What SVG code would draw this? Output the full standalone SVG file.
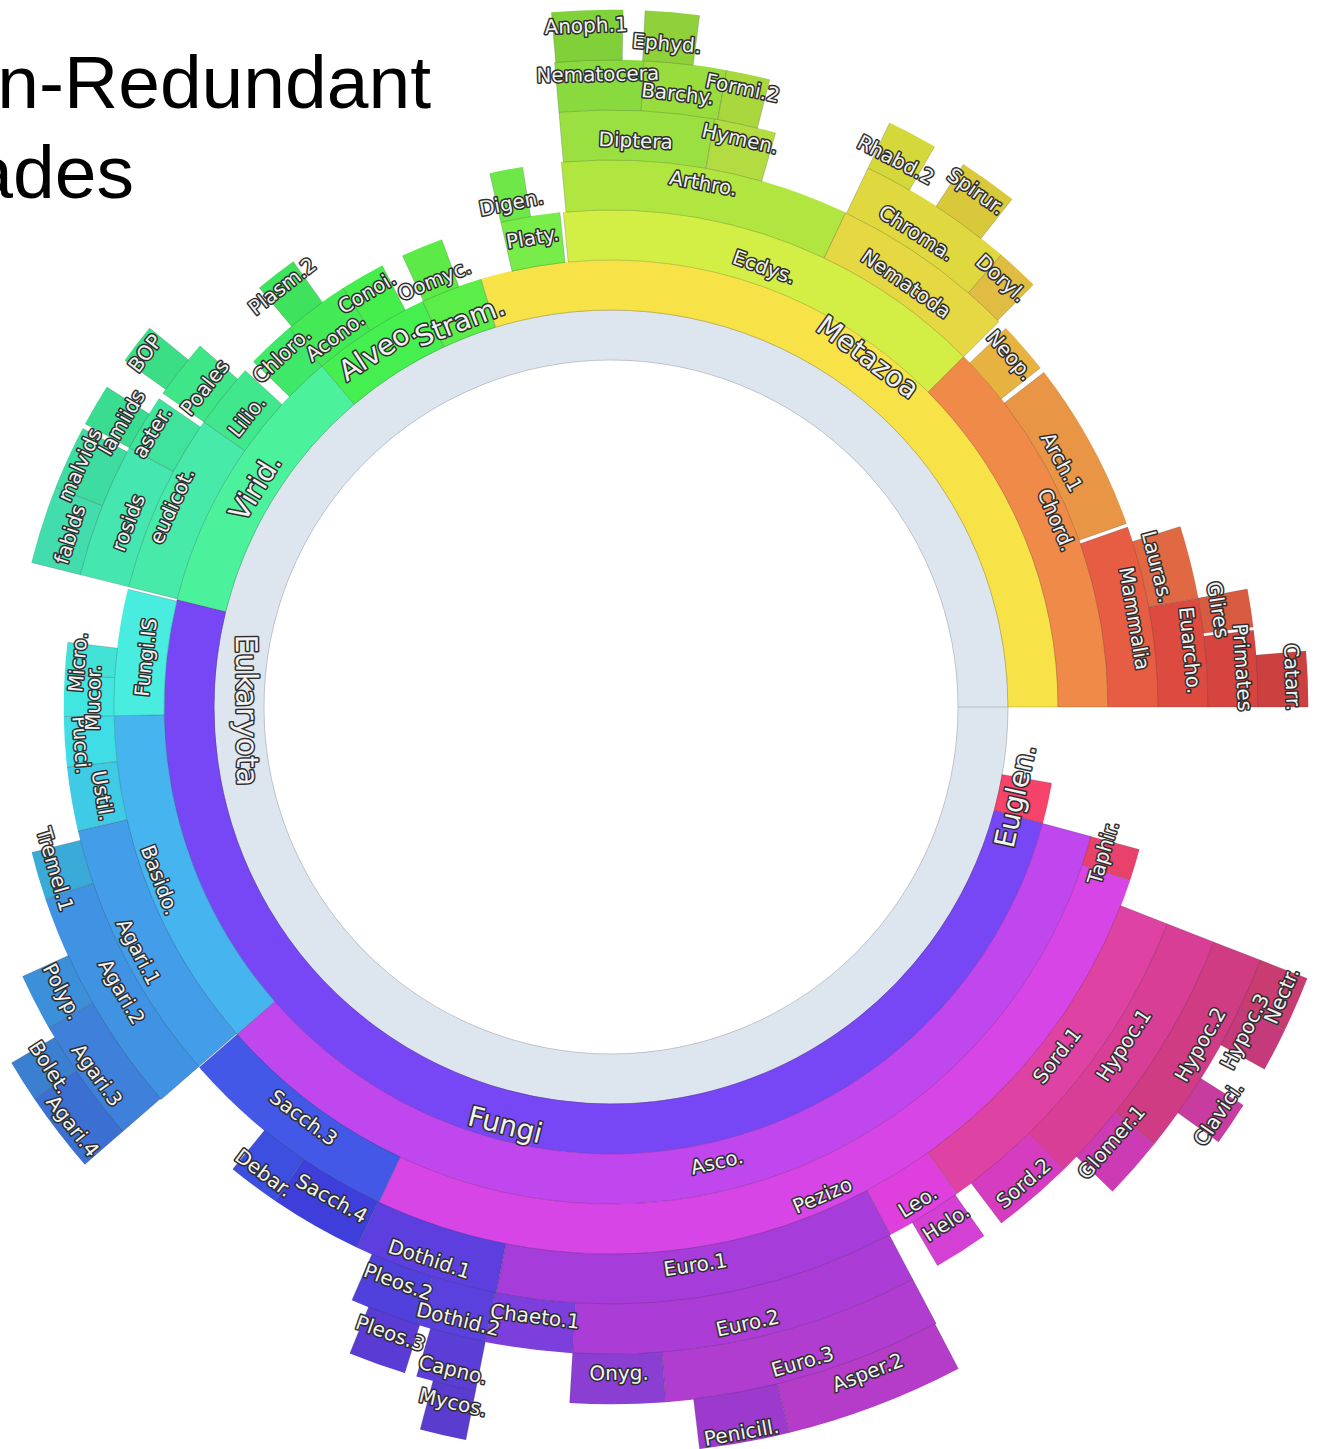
<svg xmlns="http://www.w3.org/2000/svg" width="1317" height="1449" viewBox="0 0 1317 1449">
<style>
.f{fill:none;stroke-width:50.6}
.b{fill:none;stroke:#333;stroke-opacity:.3;stroke-width:.7}
.t{font-family:"DejaVu Sans","Liberation Sans",sans-serif;font-size:20px;fill:#f2f2f2;stroke:#2d2d2d;stroke-width:3px;paint-order:stroke;stroke-linejoin:round;text-anchor:middle;dominant-baseline:central}
.t1{font-size:28px}
.t0{font-size:30px}
.title{font-family:"Liberation Sans",Arial,sans-serif;font-size:75px;fill:#000;text-anchor:end}
</style>
<defs>
<path id="r0" d="M347 0H397" stroke="#333" stroke-opacity=".3" stroke-width=".7"/>
<path id="r1" d="M397 0H447" stroke="#333" stroke-opacity=".3" stroke-width=".7"/>
<path id="r2" d="M447 0H497" stroke="#333" stroke-opacity=".3" stroke-width=".7"/>
<path id="r3" d="M497 0H547" stroke="#333" stroke-opacity=".3" stroke-width=".7"/>
<path id="r4" d="M547 0H597" stroke="#333" stroke-opacity=".3" stroke-width=".7"/>
<path id="r5" d="M597 0H647" stroke="#333" stroke-opacity=".3" stroke-width=".7"/>
<path id="r6" d="M647 0H697" stroke="#333" stroke-opacity=".3" stroke-width=".7"/>
<path id="r7" d="M697 0H747" stroke="#333" stroke-opacity=".3" stroke-width=".7"/>
</defs>
<rect width="1317" height="1449" fill="#fff"/>
<g id="title">
<text class="title" x="431" y="108">n-Redundant</text>
<text class="title" x="134" y="198">ades</text>
</g>
<g id="sunburst" transform="translate(611 707)">
<g id="nodes">
<g id="n-eukaryota"><circle class="f" r="372" stroke="#dde5ef"/><circle class="b" r="347"/><circle class="b" r="397"/><use href="#r0"/></g>

<g id="n-euglen" transform="rotate(9.8)"><circle class="f" r="422" pathLength="360" stroke="#f5436a" stroke-dasharray="5.3 999"/><circle class="b" r="397" pathLength="360" stroke-dasharray="5.3 999"/><use href="#r1"/><use href="#r1" transform="rotate(5.3)"/></g>
<g id="n-fungi" transform="rotate(15.1)"><circle class="f" r="422" pathLength="360" stroke="#7847f5" stroke-dasharray="178.8 999"/><circle class="b" r="397" pathLength="360" stroke-dasharray="178.8 999"/><use href="#r1"/><use href="#r1" transform="rotate(178.8)"/></g>
<g id="n-virid" transform="rotate(193.9)"><circle class="f" r="422" pathLength="360" stroke="#4cf29b" stroke-dasharray="35.8 999"/><circle class="b" r="397" pathLength="360" stroke-dasharray="35.8 999"/><use href="#r1"/><use href="#r1" transform="rotate(35.8)"/></g>
<g id="n-alveo" transform="rotate(229.7)"><circle class="f" r="422" pathLength="360" stroke="#46ef50" stroke-dasharray="15.4 999"/><circle class="b" r="397" pathLength="360" stroke-dasharray="15.4 999"/><use href="#r1"/><use href="#r1" transform="rotate(15.4)"/></g>
<g id="n-stram" transform="rotate(245.1)"><circle class="f" r="422" pathLength="360" stroke="#5cee48" stroke-dasharray="8 999"/><circle class="b" r="397" pathLength="360" stroke-dasharray="8 999"/><use href="#r1"/><use href="#r1" transform="rotate(8)"/></g>
<g id="n-metazoa" transform="rotate(253.1)"><circle class="f" r="422" pathLength="360" stroke="#f7e247" stroke-dasharray="106.9 999"/><circle class="b" r="397" pathLength="360" stroke-dasharray="106.9 999"/><use href="#r1"/><use href="#r1" transform="rotate(106.9)"/></g>

<g id="n-asco" transform="rotate(15.1)"><circle class="f" r="472" pathLength="360" stroke="#c046ee" stroke-dasharray="123.7 999"/><circle class="b" r="447" pathLength="360" stroke-dasharray="123.7 999"/><use href="#r2"/><use href="#r2" transform="rotate(123.7)"/></g>
<g id="n-basido" transform="rotate(138.8)"><circle class="f" r="472" pathLength="360" stroke="#46b4ee" stroke-dasharray="40.2 999"/><circle class="b" r="447" pathLength="360" stroke-dasharray="40.2 999"/><use href="#r2"/><use href="#r2" transform="rotate(40.2)"/></g>
<g id="n-fungi-is" transform="rotate(179)"><circle class="f" r="472" pathLength="360" stroke="#48eddf" stroke-dasharray="14.7 999"/><circle class="b" r="447" pathLength="360" stroke-dasharray="14.7 999"/><use href="#r2"/><use href="#r2" transform="rotate(14.7)"/></g>
<g id="n-eudicot" transform="rotate(194)"><circle class="f" r="472" pathLength="360" stroke="#48eaa9" stroke-dasharray="21 999"/><circle class="b" r="447" pathLength="360" stroke-dasharray="21 999"/><use href="#r2"/><use href="#r2" transform="rotate(21)"/></g>
<g id="n-lilio" transform="rotate(215)"><circle class="f" r="472" pathLength="360" stroke="#41e78c" stroke-dasharray="7.6 999"/><circle class="b" r="447" pathLength="360" stroke-dasharray="7.6 999"/><use href="#r2"/><use href="#r2" transform="rotate(7.6)"/></g>
<g id="n-chloro" transform="rotate(224)"><circle class="f" r="472" pathLength="360" stroke="#40e86a" stroke-dasharray="5.7 999"/><circle class="b" r="447" pathLength="360" stroke-dasharray="5.7 999"/><use href="#r2"/><use href="#r2" transform="rotate(5.7)"/></g>
<g id="n-acono" transform="rotate(229.7)"><circle class="f" r="472" pathLength="360" stroke="#44ea56" stroke-dasharray="7.7 999"/><circle class="b" r="447" pathLength="360" stroke-dasharray="7.7 999"/><use href="#r2"/><use href="#r2" transform="rotate(7.7)"/></g>
<g id="n-conoi" transform="rotate(237.4)"><circle class="f" r="472" pathLength="360" stroke="#46ee4c" stroke-dasharray="5.2 999"/><circle class="b" r="447" pathLength="360" stroke-dasharray="5.2 999"/><use href="#r2"/><use href="#r2" transform="rotate(5.2)"/></g>
<g id="n-oomyc" transform="rotate(245.2)"><circle class="f" r="472" pathLength="360" stroke="#5cea46" stroke-dasharray="4.9 999"/><circle class="b" r="447" pathLength="360" stroke-dasharray="4.9 999"/><use href="#r2"/><use href="#r2" transform="rotate(4.9)"/></g>
<g id="n-platy" transform="rotate(257.2)"><circle class="f" r="472" pathLength="360" stroke="#78ec48" stroke-dasharray="6.9 999"/><circle class="b" r="447" pathLength="360" stroke-dasharray="6.9 999"/><use href="#r2"/><use href="#r2" transform="rotate(6.9)"/></g>
<g id="n-ecdys" transform="rotate(264.5)"><circle class="f" r="472" pathLength="360" stroke="#d3ee45" stroke-dasharray="50.7 999"/><circle class="b" r="447" pathLength="360" stroke-dasharray="50.7 999"/><use href="#r2"/><use href="#r2" transform="rotate(50.7)"/></g>
<g id="n-chord" transform="rotate(315.2)"><circle class="f" r="472" pathLength="360" stroke="#ef8a48" stroke-dasharray="44.8 999"/><circle class="b" r="447" pathLength="360" stroke-dasharray="44.8 999"/><use href="#r2"/><use href="#r2" transform="rotate(44.8)"/></g>

<g id="n-taphir" transform="rotate(15.1)"><circle class="f" r="522" pathLength="360" stroke="#e8416c" stroke-dasharray="3.4 999"/><circle class="b" r="497" pathLength="360" stroke-dasharray="3.4 999"/><use href="#r3"/><use href="#r3" transform="rotate(3.4)"/></g>
<g id="n-pezizo" transform="rotate(18.5)"><circle class="f" r="522" pathLength="360" stroke="#d745e6" stroke-dasharray="96.6 999"/><circle class="b" r="497" pathLength="360" stroke-dasharray="96.6 999"/><use href="#r3"/><use href="#r3" transform="rotate(96.6)"/></g>
<g id="n-sacch3" transform="rotate(115.1)"><circle class="f" r="522" pathLength="360" stroke="#4358e6" stroke-dasharray="23.7 999"/><circle class="b" r="497" pathLength="360" stroke-dasharray="23.7 999"/><use href="#r3"/><use href="#r3" transform="rotate(23.7)"/></g>
<g id="n-agari1" transform="rotate(138.9)"><circle class="f" r="522" pathLength="360" stroke="#439de9" stroke-dasharray="28 999"/><circle class="b" r="497" pathLength="360" stroke-dasharray="28 999"/><use href="#r3"/><use href="#r3" transform="rotate(28)"/></g>
<g id="n-ustil" transform="rotate(166.9)"><circle class="f" r="522" pathLength="360" stroke="#3fcbe5" stroke-dasharray="6.8 999"/><circle class="b" r="497" pathLength="360" stroke-dasharray="6.8 999"/><use href="#r3"/><use href="#r3" transform="rotate(6.8)"/></g>
<g id="n-pucci" transform="rotate(173.7)"><circle class="f" r="522" pathLength="360" stroke="#3fdde5" stroke-dasharray="5.3 999"/><circle class="b" r="497" pathLength="360" stroke-dasharray="5.3 999"/><use href="#r3"/><use href="#r3" transform="rotate(5.3)"/></g>
<g id="n-mucor" transform="rotate(179)"><circle class="f" r="522" pathLength="360" stroke="#42e6e0" stroke-dasharray="4.4 999"/><circle class="b" r="497" pathLength="360" stroke-dasharray="4.4 999"/><use href="#r3"/><use href="#r3" transform="rotate(4.4)"/></g>
<g id="n-micro" transform="rotate(183.4)"><circle class="f" r="522" pathLength="360" stroke="#43e2d6" stroke-dasharray="3.4 999"/><circle class="b" r="497" pathLength="360" stroke-dasharray="3.4 999"/><use href="#r3"/><use href="#r3" transform="rotate(3.4)"/></g>
<g id="n-rosids" transform="rotate(194)"><circle class="f" r="522" pathLength="360" stroke="#46e6b1" stroke-dasharray="14.3 999"/><circle class="b" r="497" pathLength="360" stroke-dasharray="14.3 999"/><use href="#r3"/><use href="#r3" transform="rotate(14.3)"/></g>
<g id="n-aster" transform="rotate(208.3)"><circle class="f" r="522" pathLength="360" stroke="#3fe39c" stroke-dasharray="6 999"/><circle class="b" r="497" pathLength="360" stroke-dasharray="6 999"/><use href="#r3"/><use href="#r3" transform="rotate(6)"/></g>
<g id="n-poales" transform="rotate(215)"><circle class="f" r="522" pathLength="360" stroke="#3ee688" stroke-dasharray="6.3 999"/><circle class="b" r="497" pathLength="360" stroke-dasharray="6.3 999"/><use href="#r3"/><use href="#r3" transform="rotate(6.3)"/></g>
<g id="n-plasm2" transform="rotate(230)"><circle class="f" r="522" pathLength="360" stroke="#3fe25c" stroke-dasharray="4.5 999"/><circle class="b" r="497" pathLength="360" stroke-dasharray="4.5 999"/><use href="#r3"/><use href="#r3" transform="rotate(4.5)"/></g>
<g id="n-digen" transform="rotate(257.2)"><circle class="f" r="522" pathLength="360" stroke="#6ee848" stroke-dasharray="3.5 999"/><circle class="b" r="497" pathLength="360" stroke-dasharray="3.5 999"/><use href="#r3"/><use href="#r3" transform="rotate(3.5)"/></g>
<g id="n-arthro" transform="rotate(264.8)"><circle class="f" r="522" pathLength="360" stroke="#b0e63f" stroke-dasharray="30.6 999"/><circle class="b" r="497" pathLength="360" stroke-dasharray="30.6 999"/><use href="#r3"/><use href="#r3" transform="rotate(30.6)"/></g>
<g id="n-nematoda" transform="rotate(295.4)"><circle class="f" r="522" pathLength="360" stroke="#e5d842" stroke-dasharray="19.8 999"/><circle class="b" r="497" pathLength="360" stroke-dasharray="19.8 999"/><use href="#r3"/><use href="#r3" transform="rotate(19.8)"/></g>
<g id="n-neop" transform="rotate(316.2)"><circle class="f" r="522" pathLength="360" stroke="#e8b240" stroke-dasharray="5.5 999"/><circle class="b" r="497" pathLength="360" stroke-dasharray="5.5 999"/><use href="#r3"/><use href="#r3" transform="rotate(5.5)"/></g>
<g id="n-arch1" transform="rotate(322.3)"><circle class="f" r="522" pathLength="360" stroke="#e89545" stroke-dasharray="18.1 999"/><circle class="b" r="497" pathLength="360" stroke-dasharray="18.1 999"/><use href="#r3"/><use href="#r3" transform="rotate(18.1)"/></g>
<g id="n-mammalia" transform="rotate(340.8)"><circle class="f" r="522" pathLength="360" stroke="#e65d44" stroke-dasharray="19.2 999"/><circle class="b" r="497" pathLength="360" stroke-dasharray="19.2 999"/><use href="#r3"/><use href="#r3" transform="rotate(19.2)"/></g>

<g id="n-sord1" transform="rotate(21.3)"><circle class="f" r="572" pathLength="360" stroke="#de42a2" stroke-dasharray="33.3 999"/><circle class="b" r="547" pathLength="360" stroke-dasharray="33.3 999"/><use href="#r4"/><use href="#r4" transform="rotate(33.3)"/></g>
<g id="n-leo" transform="rotate(54.6)"><circle class="f" r="572" pathLength="360" stroke="#df40dd" stroke-dasharray="7.5 999"/><circle class="b" r="547" pathLength="360" stroke-dasharray="7.5 999"/><use href="#r4"/><use href="#r4" transform="rotate(7.5)"/></g>
<g id="n-euro1" transform="rotate(62.1)"><circle class="f" r="572" pathLength="360" stroke="#a63cd9" stroke-dasharray="39 999"/><circle class="b" r="547" pathLength="360" stroke-dasharray="39 999"/><use href="#r4"/><use href="#r4" transform="rotate(39)"/></g>
<g id="n-dothid1" transform="rotate(101.1)"><circle class="f" r="572" pathLength="360" stroke="#5c3fde" stroke-dasharray="14.1 999"/><circle class="b" r="547" pathLength="360" stroke-dasharray="14.1 999"/><use href="#r4"/><use href="#r4" transform="rotate(14.1)"/></g>
<g id="n-sacch4" transform="rotate(115.2)"><circle class="f" r="572" pathLength="360" stroke="#3e3fdb" stroke-dasharray="9 999"/><circle class="b" r="547" pathLength="360" stroke-dasharray="9 999"/><use href="#r4"/><use href="#r4" transform="rotate(9)"/></g>
<g id="n-debar" transform="rotate(124.2)"><circle class="f" r="572" pathLength="360" stroke="#3d4fdf" stroke-dasharray="5.1 999"/><circle class="b" r="547" pathLength="360" stroke-dasharray="5.1 999"/><use href="#r4"/><use href="#r4" transform="rotate(5.1)"/></g>
<g id="n-agari2" transform="rotate(138.9)"><circle class="f" r="572" pathLength="360" stroke="#4092e2" stroke-dasharray="22.3 999"/><circle class="b" r="547" pathLength="360" stroke-dasharray="22.3 999"/><use href="#r4"/><use href="#r4" transform="rotate(22.3)"/></g>
<g id="n-tremel1" transform="rotate(161.2)"><circle class="f" r="572" pathLength="360" stroke="#3aaad9" stroke-dasharray="4.7 999"/><circle class="b" r="547" pathLength="360" stroke-dasharray="4.7 999"/><use href="#r4"/><use href="#r4" transform="rotate(4.7)"/></g>
<g id="n-fabids" transform="rotate(194)"><circle class="f" r="572" pathLength="360" stroke="#43dcad" stroke-dasharray="7.6 999"/><circle class="b" r="547" pathLength="360" stroke-dasharray="7.6 999"/><use href="#r4"/><use href="#r4" transform="rotate(7.6)"/></g>
<g id="n-malvids" transform="rotate(201.6)"><circle class="f" r="572" pathLength="360" stroke="#3edca0" stroke-dasharray="6.2 999"/><circle class="b" r="547" pathLength="360" stroke-dasharray="6.2 999"/><use href="#r4"/><use href="#r4" transform="rotate(6.2)"/></g>
<g id="n-lamiids" transform="rotate(208.3)"><circle class="f" r="572" pathLength="360" stroke="#3adc90" stroke-dasharray="4.1 999"/><circle class="b" r="547" pathLength="360" stroke-dasharray="4.1 999"/><use href="#r4"/><use href="#r4" transform="rotate(4.1)"/></g>
<g id="n-bop" transform="rotate(215.5)"><circle class="f" r="572" pathLength="360" stroke="#3bde84" stroke-dasharray="3.9 999"/><circle class="b" r="547" pathLength="360" stroke-dasharray="3.9 999"/><use href="#r4"/><use href="#r4" transform="rotate(3.9)"/></g>
<g id="n-diptera" transform="rotate(265)"><circle class="f" r="572" pathLength="360" stroke="#9ae040" stroke-dasharray="15 999"/><circle class="b" r="547" pathLength="360" stroke-dasharray="15 999"/><use href="#r4"/><use href="#r4" transform="rotate(15)"/></g>
<g id="n-hymen" transform="rotate(280)"><circle class="f" r="572" pathLength="360" stroke="#b2dc42" stroke-dasharray="6 999"/><circle class="b" r="547" pathLength="360" stroke-dasharray="6 999"/><use href="#r4"/><use href="#r4" transform="rotate(6)"/></g>
<g id="n-chroma" transform="rotate(295.5)"><circle class="f" r="572" pathLength="360" stroke="#dfd83e" stroke-dasharray="15.3 999"/><circle class="b" r="547" pathLength="360" stroke-dasharray="15.3 999"/><use href="#r4"/><use href="#r4" transform="rotate(15.3)"/></g>
<g id="n-doryl" transform="rotate(310.8)"><circle class="f" r="572" pathLength="360" stroke="#e0bd42" stroke-dasharray="4.2 999"/><circle class="b" r="547" pathLength="360" stroke-dasharray="4.2 999"/><use href="#r4"/><use href="#r4" transform="rotate(4.2)"/></g>
<g id="n-lauras" transform="rotate(342.4)"><circle class="f" r="572" pathLength="360" stroke="#e06842" stroke-dasharray="7.1 999"/><circle class="b" r="547" pathLength="360" stroke-dasharray="7.1 999"/><use href="#r4"/><use href="#r4" transform="rotate(7.1)"/></g>
<g id="n-euarcho" transform="rotate(349.5)"><circle class="f" r="572" pathLength="360" stroke="#dd4b40" stroke-dasharray="10.5 999"/><circle class="b" r="547" pathLength="360" stroke-dasharray="10.5 999"/><use href="#r4"/><use href="#r4" transform="rotate(10.5)"/></g>

<g id="n-hypoc1" transform="rotate(21.3)"><circle class="f" r="622" pathLength="360" stroke="#d83e96" stroke-dasharray="24.3 999"/><circle class="b" r="597" pathLength="360" stroke-dasharray="24.3 999"/><use href="#r5"/><use href="#r5" transform="rotate(24.3)"/></g>
<g id="n-sord2" transform="rotate(45.6)"><circle class="f" r="622" pathLength="360" stroke="#d63cc0" stroke-dasharray="7.3 999"/><circle class="b" r="597" pathLength="360" stroke-dasharray="7.3 999"/><use href="#r5"/><use href="#r5" transform="rotate(7.3)"/></g>
<g id="n-helo" transform="rotate(54.8)"><circle class="f" r="622" pathLength="360" stroke="#d43fd4" stroke-dasharray="4.9 999"/><circle class="b" r="597" pathLength="360" stroke-dasharray="4.9 999"/><use href="#r5"/><use href="#r5" transform="rotate(4.9)"/></g>
<g id="n-euro2" transform="rotate(62.2)"><circle class="f" r="622" pathLength="360" stroke="#ac3cd6" stroke-dasharray="31.2 999"/><circle class="b" r="597" pathLength="360" stroke-dasharray="31.2 999"/><use href="#r5"/><use href="#r5" transform="rotate(31.2)"/></g>
<g id="n-chaeto1" transform="rotate(93.4)"><circle class="f" r="622" pathLength="360" stroke="#7c3edc" stroke-dasharray="7.8 999"/><circle class="b" r="597" pathLength="360" stroke-dasharray="7.8 999"/><use href="#r5"/><use href="#r5" transform="rotate(7.8)"/></g>
<g id="n-dothid2" transform="rotate(101.2)"><circle class="f" r="622" pathLength="360" stroke="#5a40dc" stroke-dasharray="6.2 999"/><circle class="b" r="597" pathLength="360" stroke-dasharray="6.2 999"/><use href="#r5"/><use href="#r5" transform="rotate(6.2)"/></g>
<g id="n-pleos2" transform="rotate(107.4)"><circle class="f" r="622" pathLength="360" stroke="#5040dc" stroke-dasharray="6.2 999"/><circle class="b" r="597" pathLength="360" stroke-dasharray="6.2 999"/><use href="#r5"/><use href="#r5" transform="rotate(6.2)"/></g>
<g id="n-agari3" transform="rotate(139)"><circle class="f" r="622" pathLength="360" stroke="#3f80da" stroke-dasharray="11.3 999"/><circle class="b" r="597" pathLength="360" stroke-dasharray="11.3 999"/><use href="#r5"/><use href="#r5" transform="rotate(11.3)"/></g>
<g id="n-polyp" transform="rotate(150.3)"><circle class="f" r="622" pathLength="360" stroke="#3c8fd9" stroke-dasharray="5.1 999"/><circle class="b" r="597" pathLength="360" stroke-dasharray="5.1 999"/><use href="#r5"/><use href="#r5" transform="rotate(5.1)"/></g>
<g id="n-nematocera" transform="rotate(265)"><circle class="f" r="622" pathLength="360" stroke="#88da3e" stroke-dasharray="7.9 999"/><circle class="b" r="597" pathLength="360" stroke-dasharray="7.9 999"/><use href="#r5"/><use href="#r5" transform="rotate(7.9)"/></g>
<g id="n-barchy" transform="rotate(272.9)"><circle class="f" r="622" pathLength="360" stroke="#98dc3e" stroke-dasharray="7.4 999"/><circle class="b" r="597" pathLength="360" stroke-dasharray="7.4 999"/><use href="#r5"/><use href="#r5" transform="rotate(7.4)"/></g>
<g id="n-formi2" transform="rotate(280.3)"><circle class="f" r="622" pathLength="360" stroke="#a8d83e" stroke-dasharray="3.9 999"/><circle class="b" r="597" pathLength="360" stroke-dasharray="3.9 999"/><use href="#r5"/><use href="#r5" transform="rotate(3.9)"/></g>
<g id="n-rhabd2" transform="rotate(295.5)"><circle class="f" r="622" pathLength="360" stroke="#d4d83a" stroke-dasharray="4.5 999"/><circle class="b" r="597" pathLength="360" stroke-dasharray="4.5 999"/><use href="#r5"/><use href="#r5" transform="rotate(4.5)"/></g>
<g id="n-spirur" transform="rotate(303)"><circle class="f" r="622" pathLength="360" stroke="#d8c83a" stroke-dasharray="5.3 999"/><circle class="b" r="597" pathLength="360" stroke-dasharray="5.3 999"/><use href="#r5"/><use href="#r5" transform="rotate(5.3)"/></g>
<g id="n-glires" transform="rotate(349.5)"><circle class="f" r="622" pathLength="360" stroke="#d85a40" stroke-dasharray="3.4 999"/><circle class="b" r="597" pathLength="360" stroke-dasharray="3.4 999"/><use href="#r5"/><use href="#r5" transform="rotate(3.4)"/></g>
<g id="n-primates" transform="rotate(353.2)"><circle class="f" r="622" pathLength="360" stroke="#d64440" stroke-dasharray="6.8 999"/><circle class="b" r="597" pathLength="360" stroke-dasharray="6.8 999"/><use href="#r5"/><use href="#r5" transform="rotate(6.8)"/></g>

<g id="n-hypoc2" transform="rotate(21.3)"><circle class="f" r="672" pathLength="360" stroke="#d03c84" stroke-dasharray="17.5 999"/><circle class="b" r="647" pathLength="360" stroke-dasharray="17.5 999"/><use href="#r6"/><use href="#r6" transform="rotate(17.5)"/></g>
<g id="n-glomer1" transform="rotate(38.8)"><circle class="f" r="672" pathLength="360" stroke="#cc3ab4" stroke-dasharray="5.2 999"/><circle class="b" r="647" pathLength="360" stroke-dasharray="5.2 999"/><use href="#r6"/><use href="#r6" transform="rotate(5.2)"/></g>
<g id="n-euro3" transform="rotate(62.2)"><circle class="f" r="672" pathLength="360" stroke="#b03cd0" stroke-dasharray="23.3 999"/><circle class="b" r="647" pathLength="360" stroke-dasharray="23.3 999"/><use href="#r6"/><use href="#r6" transform="rotate(23.3)"/></g>
<g id="n-onyg" transform="rotate(85.5)"><circle class="f" r="672" pathLength="360" stroke="#8a3ed2" stroke-dasharray="7.9 999"/><circle class="b" r="647" pathLength="360" stroke-dasharray="7.9 999"/><use href="#r6"/><use href="#r6" transform="rotate(7.9)"/></g>
<g id="n-capno" transform="rotate(101.2)"><circle class="f" r="672" pathLength="360" stroke="#5a3ed6" stroke-dasharray="5 999"/><circle class="b" r="647" pathLength="360" stroke-dasharray="5 999"/><use href="#r6"/><use href="#r6" transform="rotate(5)"/></g>
<g id="n-pleos3" transform="rotate(107.2)"><circle class="f" r="672" pathLength="360" stroke="#5a3cd4" stroke-dasharray="4.8 999"/><circle class="b" r="647" pathLength="360" stroke-dasharray="4.8 999"/><use href="#r6"/><use href="#r6" transform="rotate(4.8)"/></g>
<g id="n-agari4" transform="rotate(139)"><circle class="f" r="672" pathLength="360" stroke="#3b6fd2" stroke-dasharray="6.8 999"/><circle class="b" r="647" pathLength="360" stroke-dasharray="6.8 999"/><use href="#r6"/><use href="#r6" transform="rotate(6.8)"/></g>
<g id="n-bolet" transform="rotate(145.8)"><circle class="f" r="672" pathLength="360" stroke="#3a7fd0" stroke-dasharray="3.5 999"/><circle class="b" r="647" pathLength="360" stroke-dasharray="3.5 999"/><use href="#r6"/><use href="#r6" transform="rotate(3.5)"/></g>
<g id="n-anoph1" transform="rotate(265.1)"><circle class="f" r="672" pathLength="360" stroke="#80d03a" stroke-dasharray="5.9 999"/><circle class="b" r="647" pathLength="360" stroke-dasharray="5.9 999"/><use href="#r6"/><use href="#r6" transform="rotate(5.9)"/></g>
<g id="n-ephyd" transform="rotate(272.8)"><circle class="f" r="672" pathLength="360" stroke="#90d03a" stroke-dasharray="4.5 999"/><circle class="b" r="647" pathLength="360" stroke-dasharray="4.5 999"/><use href="#r6"/><use href="#r6" transform="rotate(4.5)"/></g>
<g id="n-catarr" transform="rotate(355.4)"><circle class="f" r="672" pathLength="360" stroke="#cc4040" stroke-dasharray="4.6 999"/><circle class="b" r="647" pathLength="360" stroke-dasharray="4.6 999"/><use href="#r6"/><use href="#r6" transform="rotate(4.6)"/></g>

<g id="n-nectr" transform="rotate(21.3)"><circle class="f" r="722" pathLength="360" stroke="#c83c70" stroke-dasharray="4.3 999"/><circle class="b" r="697" pathLength="360" stroke-dasharray="4.3 999"/><use href="#r7"/><use href="#r7" transform="rotate(4.3)"/></g>
<g id="n-hypoc3" transform="rotate(25.6)"><circle class="f" r="722" pathLength="360" stroke="#c43a7a" stroke-dasharray="3.4 999"/><circle class="b" r="697" pathLength="360" stroke-dasharray="3.4 999"/><use href="#r7"/><use href="#r7" transform="rotate(3.4)"/></g>
<g id="n-clavici" transform="rotate(32.2)"><circle class="f" r="722" pathLength="360" stroke="#c83ca0" stroke-dasharray="3.4 999"/><circle class="b" r="697" pathLength="360" stroke-dasharray="3.4 999"/><use href="#r7"/><use href="#r7" transform="rotate(3.4)"/></g>
<g id="n-asper2" transform="rotate(62.3)"><circle class="f" r="722" pathLength="360" stroke="#b53cc8" stroke-dasharray="13.9 999"/><circle class="b" r="697" pathLength="360" stroke-dasharray="13.9 999"/><use href="#r7"/><use href="#r7" transform="rotate(13.9)"/></g>
<g id="n-penicill" transform="rotate(76.2)"><circle class="f" r="722" pathLength="360" stroke="#9c3ace" stroke-dasharray="7 999"/><circle class="b" r="697" pathLength="360" stroke-dasharray="7 999"/><use href="#r7"/><use href="#r7" transform="rotate(7)"/></g>
<g id="n-mycos" transform="rotate(101.2)"><circle class="f" r="722" pathLength="360" stroke="#5a3ccf" stroke-dasharray="3.6 999"/><circle class="b" r="697" pathLength="360" stroke-dasharray="3.6 999"/><use href="#r7"/><use href="#r7" transform="rotate(3.6)"/></g>
</g>

<g id="labels">
<text id="l-eukaryota" class="t t0" transform="rotate(179.5) translate(364) rotate(-90)">Eukaryota</text>
<text id="l-euglen" class="t t1" transform="rotate(12.4) translate(414) rotate(-90)">Euglen.</text>
<text id="l-fungi" class="t t1" transform="rotate(104.2) translate(431) rotate(-90)">Fungi</text>
<text id="l-virid" class="t t1" transform="rotate(211.7) translate(418) rotate(90)">Virid.</text>
<text id="l-alveo" class="t t1" transform="rotate(236.8) translate(426) rotate(90)">Alveo.</text>
<text id="l-stram" class="t t1" transform="rotate(248.6) translate(414) rotate(90)">Stram.</text>
<text id="l-metazoa" class="t t1" transform="rotate(306.3) translate(434) rotate(90)">Metazoa</text>

<text id="l-asco" class="t" transform="rotate(76.9) translate(467) rotate(-90)">Asco.</text>
<text id="l-basido" class="t" transform="rotate(159) translate(483) rotate(-90)">Basido.</text>
<text id="l-fungi-is" class="t" transform="rotate(186.1) translate(468) rotate(90)">Fungi.IS</text>
<text id="l-eudicot" class="t" transform="rotate(204.6) translate(483) rotate(90)">eudicot.</text>
<text id="l-lilio" class="t" transform="rotate(218.6) translate(466) rotate(90)">Lilio.</text>
<text id="l-chloro" class="t" transform="rotate(226.9) translate(482) rotate(90)">Chloro.</text>
<text id="l-acono" class="t" transform="rotate(233.3) translate(462) rotate(90)">Acono.</text>
<text id="l-conoi" class="t" transform="rotate(239.5) translate(481) rotate(90)">Conoi.</text>
<text id="l-oomyc" class="t" transform="rotate(247.5) translate(462) rotate(90)">Oomyc.</text>
<text id="l-platy" class="t" transform="rotate(260.5) translate(476) rotate(90)">Platy.</text>
<text id="l-ecdys" class="t" transform="rotate(289.2) translate(466) rotate(90)">Ecdys.</text>
<text id="l-chord" class="t" transform="rotate(337.2) translate(483) rotate(90)">Chord.</text>

<text id="l-taphir" class="t" transform="rotate(16.5) translate(513) rotate(-90)">Taphir.</text>
<text id="l-pezizo" class="t" transform="rotate(66.6) translate(532) rotate(-90)">Pezizo</text>
<text id="l-sacch3" class="t" transform="rotate(126.8) translate(513) rotate(-90)">Sacch.3</text>
<text id="l-agari1" class="t" transform="rotate(152.6) translate(532) rotate(-90)">Agari.1</text>
<text id="l-ustil" class="t" transform="rotate(170.1) translate(516) rotate(-90)">Ustil.</text>
<text id="l-pucci" class="t" transform="rotate(175.9) translate(531) rotate(-90)">Pucci.</text>
<text id="l-mucor" class="t" transform="rotate(181) translate(518) rotate(90)">Mucor.</text>
<text id="l-micro" class="t" transform="rotate(184.8) translate(535) rotate(90)">Micro.</text>
<text id="l-rosids" class="t" transform="rotate(200.9) translate(517) rotate(90)">rosids</text>
<text id="l-aster" class="t" transform="rotate(210.9) translate(535) rotate(90)">aster.</text>
<text id="l-poales" class="t" transform="rotate(218.2) translate(517) rotate(90)">Poales</text>
<text id="l-plasm2" class="t" transform="rotate(232) translate(534) rotate(90)">Plasm.2</text>
<text id="l-digen" class="t" transform="rotate(258.8) translate(514) rotate(90)">Digen.</text>
<text id="l-arthro" class="t" transform="rotate(280) translate(532) rotate(90)">Arthro.</text>
<text id="l-nematoda" class="t" transform="rotate(304.9) translate(516) rotate(90)">Nematoda</text>
<text id="l-neop" class="t" transform="rotate(318.6) translate(532) rotate(90)">Neop.</text>
<text id="l-arch1" class="t" transform="rotate(331.5) translate(513) rotate(90)">Arch.1</text>
<text id="l-mammalia" class="t" transform="rotate(350.4) translate(531) rotate(90)">Mammalia</text>

<text id="l-sord1" class="t" transform="rotate(38) translate(566) rotate(-90)">Sord.1</text>
<text id="l-leo" class="t" transform="rotate(58.2) translate(582) rotate(-90)">Leo.</text>
<text id="l-euro1" class="t" transform="rotate(81.4) translate(564) rotate(-90)">Euro.1</text>
<text id="l-dothid1" class="t" transform="rotate(108.2) translate(581) rotate(-90)">Dothid.1</text>
<text id="l-sacch4" class="t" transform="rotate(119.6) translate(565) rotate(-90)">Sacch.4</text>
<text id="l-debar" class="t" transform="rotate(126.7) translate(581) rotate(-90)">Debar.</text>
<text id="l-agari2" class="t" transform="rotate(149.8) translate(566) rotate(-90)">Agari.2</text>
<text id="l-tremel1" class="t" transform="rotate(163.7) translate(579) rotate(-90)">Tremel.1</text>
<text id="l-fabids" class="t" transform="rotate(197.7) translate(568) rotate(90)">fabids</text>
<text id="l-malvids" class="t" transform="rotate(204.5) translate(584) rotate(90)">malvids</text>
<text id="l-lamiids" class="t" transform="rotate(210.2) translate(566) rotate(90)">lamiids</text>
<text id="l-bop" class="t" transform="rotate(217.2) translate(585) rotate(90)">BOP</text>
<text id="l-diptera" class="t" transform="rotate(272.5) translate(567) rotate(90)">Diptera</text>
<text id="l-hymen" class="t" transform="rotate(282.8) translate(583) rotate(90)">Hymen.</text>
<text id="l-chroma" class="t" transform="rotate(302.8) translate(564) rotate(90)">Chroma.</text>
<text id="l-doryl" class="t" transform="rotate(312.3) translate(580) rotate(90)">Doryl.</text>
<text id="l-lauras" class="t" transform="rotate(345.6) translate(564) rotate(90)">Lauras.</text>
<text id="l-euarcho" class="t" transform="rotate(354.4) translate(582) rotate(90)">Euarcho.</text>

<text id="l-hypoc1" class="t" transform="rotate(33.4) translate(614) rotate(-90)">Hypoc.1</text>
<text id="l-sord2" class="t" transform="rotate(49.1) translate(630) rotate(-90)">Sord.2</text>
<text id="l-helo" class="t" transform="rotate(57) translate(615) rotate(-90)">Helo.</text>
<text id="l-euro2" class="t" transform="rotate(77.5) translate(631) rotate(-90)">Euro.2</text>
<text id="l-chaeto1" class="t" transform="rotate(97.1) translate(614) rotate(-90)">Chaeto.1</text>
<text id="l-dothid2" class="t" transform="rotate(104) translate(631) rotate(-90)">Dothid.2</text>
<text id="l-pleos2" class="t" transform="rotate(110.3) translate(613) rotate(-90)">Pleos.2</text>
<text id="l-agari3" class="t" transform="rotate(144.4) translate(632) rotate(-90)">Agari.3</text>
<text id="l-polyp" class="t" transform="rotate(152.6) translate(618) rotate(-90)">Polyp.</text>
<text id="l-nematocera" class="t" transform="rotate(268.8) translate(633) rotate(90)">Nematocera</text>
<text id="l-barchy" class="t" transform="rotate(276.2) translate(617) rotate(90)">Barchy.</text>
<text id="l-formi2" class="t" transform="rotate(282) translate(633) rotate(90)">Formi.2</text>
<text id="l-rhabd2" class="t" transform="rotate(297.5) translate(617) rotate(90)">Rhabd.2</text>
<text id="l-spirur" class="t" transform="rotate(305.3) translate(632) rotate(90)">Spirur.</text>
<text id="l-glires" class="t" transform="rotate(350.9) translate(615) rotate(90)">Glires</text>
<text id="l-primates" class="t" transform="rotate(356.4) translate(633) rotate(90)">Primates</text>

<text id="l-hypoc2" class="t" transform="rotate(29.8) translate(679) rotate(-90)">Hypoc.2</text>
<text id="l-glomer1" class="t" transform="rotate(41) translate(663) rotate(-90)">Glomer.1</text>
<text id="l-euro3" class="t" transform="rotate(73.7) translate(682) rotate(-90)">Euro.3</text>
<text id="l-onyg" class="t" transform="rotate(89.3) translate(666) rotate(-90)">Onyg.</text>
<text id="l-capno" class="t" transform="rotate(103.4) translate(681) rotate(-90)">Capno.</text>
<text id="l-pleos3" class="t" transform="rotate(109.4) translate(664) rotate(-90)">Pleos.3</text>
<text id="l-agari4" class="t" transform="rotate(142.1) translate(682) rotate(-90)">Agari.4</text>
<text id="l-bolet" class="t" transform="rotate(147.3) translate(667) rotate(-90)">Bolet.</text>
<text id="l-anoph1" class="t" transform="rotate(267.9) translate(682) rotate(90)">Anoph.1</text>
<text id="l-ephyd" class="t" transform="rotate(274.8) translate(666) rotate(90)">Ephyd.</text>
<text id="l-catarr" class="t" transform="rotate(357.5) translate(682) rotate(90)">Catarr.</text>

<text id="l-nectr" class="t" transform="rotate(23.3) translate(730) rotate(-90)">Nectr.</text>
<text id="l-hypoc3" class="t" transform="rotate(27.1) translate(712) rotate(-90)">Hypoc.3</text>
<text id="l-clavici" class="t" transform="rotate(33.8) translate(731) rotate(-90)">Clavici.</text>
<text id="l-asper2" class="t" transform="rotate(68.9) translate(713) rotate(-90)">Asper.2</text>
<text id="l-penicill" class="t" transform="rotate(79.8) translate(737) rotate(-90)">Penicill.</text>
<text id="l-mycos" class="t" transform="rotate(102.8) translate(713) rotate(-90)">Mycos.</text>
</g>
</g>
</svg>
